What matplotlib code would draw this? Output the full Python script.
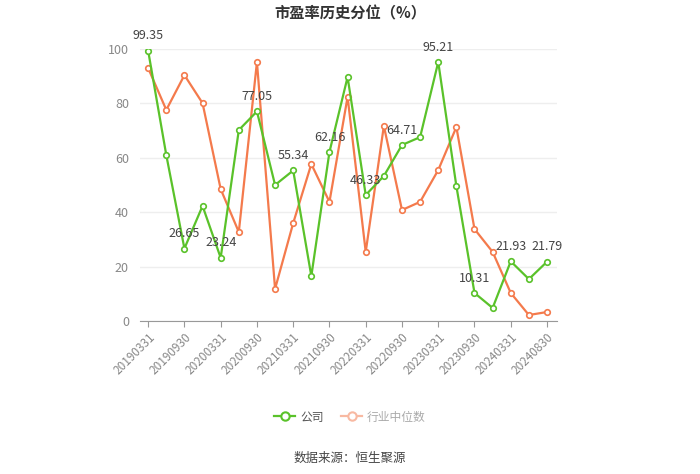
import matplotlib
matplotlib.use("Agg")
import matplotlib.pyplot as plt
from matplotlib.lines import Line2D

plt.rcParams['font.family'] = ['Noto Sans CJK SC', 'DejaVu Sans']

dates = ["20190331", "20190630", "20190930", "20191231", "20200331", "20200630",
         "20200930", "20201231", "20210331", "20210630", "20210930", "20211231",
         "20220331", "20220630", "20220930", "20221231", "20230331", "20230630",
         "20230930", "20231231", "20240331", "20240630", "20240830"]
company = [99.35, 61.0, 26.65, 42.3, 23.24, 70.2, 77.05, 50.0, 55.34, 16.5, 62.16, 89.7,
           46.33, 53.3, 64.71, 67.6, 95.21, 49.6, 10.31, 4.8, 21.93, 15.4, 21.79]
industry = [93.0, 77.6, 90.4, 80.1, 48.5, 32.7, 95.2, 11.8, 36.0, 57.7, 43.8, 82.4,
            25.4, 71.7, 40.8, 43.8, 55.5, 71.3, 33.8, 25.4, 10.3, 2.2, 3.3]

green = '#5ac22a'
orange = '#f47a4c'

fig = plt.figure(figsize=(7, 4.74), dpi=100)
ax = fig.add_axes([0.2, 0.3228, 0.5957, 0.5738])

x = list(range(len(dates)))
ax.plot(x, company, color=green, lw=1.6, marker='o', ms=4, mfc='white', mew=1.2, zorder=3)
ax.plot(x, industry, color=orange, lw=1.6, marker='o', ms=4, mfc='white', mew=1.2, zorder=2)

# 只标注隔一个点的数值
for i in range(0, len(x), 2):
    ax.annotate(f"{company[i]:.2f}", (x[i], company[i]), xytext=(0, 6),
                textcoords='offset points', ha='center', va='bottom',
                fontsize=9, color='#444444', zorder=4)

ax.set_xlim(-0.45, 22.55)
ax.set_ylim(0, 100)
ax.set_yticks([0, 20, 40, 60, 80, 100])
ax.tick_params(axis='y', length=0, labelcolor='#888888', labelsize=9, pad=8)
ax.grid(axis='y', color='#eeeeee', lw=1)
ax.set_axisbelow(True)

ax.set_xticks(x[::2])
ax.set_xticklabels(dates[::2], rotation=45, ha='right', rotation_mode='anchor',
                   fontsize=8.5, color='#888888')
ax.tick_params(axis='x', length=4, color='#999999', pad=3)

for s in ['top', 'right', 'left']:
    ax.spines[s].set_visible(False)
ax.spines['bottom'].set_color('#999999')

fig.text(0.5, 0.988, "市盈率历史分位（%）", ha='center', va='top',
         fontsize=11, fontweight='bold', color='#333333')

handles = [Line2D([], [], color=green, lw=1.6, marker='o', ms=6, mfc='white', mew=1.5),
           Line2D([], [], color='#f8b9a2', lw=1.6, marker='o', ms=6, mfc='white', mew=1.5)]
leg = fig.legend(handles, ["公司", "行业中位数"], loc='center', bbox_to_anchor=(0.5, 0.12),
                 ncol=2, frameon=False, fontsize=8.5, handlelength=1.8, columnspacing=1.5,
                 handletextpad=0.4)
leg.get_texts()[0].set_color('#555555')
leg.get_texts()[1].set_color('#aaaaaa')

fig.text(0.5, 0.033, "数据来源：恒生聚源", ha='center', va='center', fontsize=9, color='#444444')

fig.savefig("out.png", dpi=100)
